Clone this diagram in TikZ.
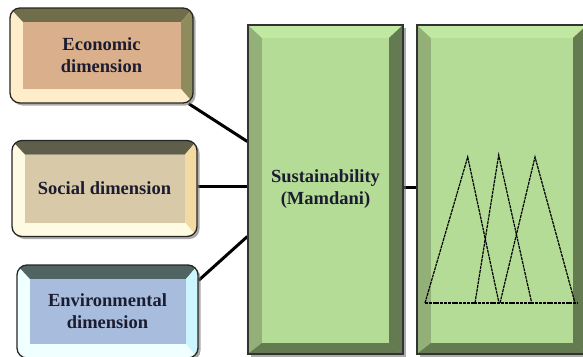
\documentclass[tikz,border=0pt]{standalone}
\usepackage{fontspec}
\setmainfont{Liberation Serif}
\usetikzlibrary{positioning,shadows,backgrounds}
\definecolor{textc}{RGB}{28,28,48}
% economic box
\definecolor{econface}{RGB}{218,176,140}
\definecolor{econtop}{RGB}{112,110,74}
\definecolor{econright}{RGB}{142,140,92}
\definecolor{econleft}{RGB}{255,236,200}
\definecolor{econbottom}{RGB}{255,236,200}
% social box
\definecolor{socface}{RGB}{216,201,168}
\definecolor{soctop}{RGB}{94,94,74}
\definecolor{socright}{RGB}{242,218,162}
\definecolor{socleft}{RGB}{255,250,226}
\definecolor{socbottom}{RGB}{255,250,226}
% environmental box
\definecolor{envface}{RGB}{168,189,221}
\definecolor{envtop}{RGB}{80,100,100}
\definecolor{envright}{RGB}{205,245,255}
\definecolor{envleft}{RGB}{240,255,255}
\definecolor{envbottom}{RGB}{240,255,255}
% green boxes
\definecolor{grnface}{RGB}{180,220,150}
\definecolor{grntop}{RGB}{192,232,160}
\definecolor{grnright}{RGB}{100,122,80}
\definecolor{grnleft}{RGB}{146,176,120}
\definecolor{grnbottom}{RGB}{100,122,80}

\begin{document}
\begin{tikzpicture}[x=1pt, y=-1pt,
    bevel left/.store in=\bevL, bevel top/.store in=\bevT,
    bevel right/.store in=\bevR, bevel bottom/.store in=\bevB,
    bevel/.style={fill=#1left, path picture={
        \path (path picture bounding box.north west) coordinate (bnw)
              (path picture bounding box.north east) coordinate (bne)
              (path picture bounding box.south west) coordinate (bsw)
              (path picture bounding box.south east) coordinate (bse);
        \begin{scope}[sharp corners]
        \fill[#1top] (bnw) -- (bne) -- ([xshift=-\bevR,yshift=-\bevT]bne)
          -- ([xshift=\bevL,yshift=-\bevT]bnw) -- cycle;
        \fill[#1right] (bne) -- (bse) -- ([xshift=-\bevR,yshift=\bevB]bse)
          -- ([xshift=-\bevR,yshift=-\bevT]bne) -- cycle;
        \fill[#1bottom] (bsw) -- (bse) -- ([xshift=-\bevR,yshift=\bevB]bse)
          -- ([xshift=\bevL,yshift=\bevB]bsw) -- cycle;
        \fill[#1face] ([xshift=\bevL,yshift=-\bevT]bnw)
          rectangle ([xshift=-\bevR,yshift=\bevB]bse);
        \end{scope}
      }},
    shade/.style={drop shadow={shadow xshift=2.5pt, shadow yshift=-2.5pt,
                  fill=black!55, opacity=.6}},
    dimbox/.style={draw=black!85, line width=1.3pt, rounded corners=10pt,
                   align=center, text=textc, shade,
                   font=\bfseries\fontsize{18.5}{22}\selectfont,
                   bevel left=13pt, bevel top=14pt, bevel right=12pt, bevel bottom=14pt},
    fisbox/.style={draw=black!80, line width=1.3pt, align=center, text=textc, shade,
                   minimum width=#1, minimum height=329pt,
                   font=\bfseries\fontsize{18.5}{22}\selectfont,
                   bevel left=14pt, bevel top=13pt, bevel right=14pt, bevel bottom=11pt,
                   bevel=grn},
    link/.style={line width=3pt, black},
    mf/.style={dash pattern=on 3pt off 0.8pt, line width=1.2pt, black},
  ]
  \useasboundingbox (0,0) rectangle (583,356);
  % Dimensions
  \node[dimbox, bevel=econ, minimum width=183pt, minimum height=95pt]
    (econ) at (101.5,55.5) {Economic\\dimension};
  \node[dimbox, bevel=soc, minimum width=185pt, minimum height=96pt]
    (soc) at (104.5,188.5) {Social dimension};
  \node[dimbox, bevel=env, minimum width=181pt, minimum height=93pt]
    (env) at (107.5,311.5) {Environmental\\dimension};
  % Mamdani system
  \node[fisbox=155pt] (sust) at (325.5,189.5) {Sustainability\\(Mamdani)};
  \node[fisbox=170pt] (fuzzy) at (502,189.5) {};
  % Membership functions
  \draw[mf] (425,303) -- (467.7,157) -- (499,303);
  \draw[mf] (475,303) -- (498.7,155) -- (531.7,303);
  \draw[mf] (500,303) -- (535,157) -- (575,303);
  \draw[mf] (425,303) -- (578,303);
  % Connectors
  \begin{scope}[on background layer]
    \draw[link] ([xshift=-5pt]econ.south east) -- ([yshift=48pt]sust.west);
    \draw[link] ([yshift=2pt]soc.east) -- ([yshift=2pt]soc.east -| sust.west);
    \draw[link] ([yshift=-16pt]env.north east) -- ([yshift=-47pt]sust.west);
    \draw[link] ([yshift=2pt]sust.east) -- ([yshift=2pt]fuzzy.west);
  \end{scope}
\end{tikzpicture}
\end{document}
